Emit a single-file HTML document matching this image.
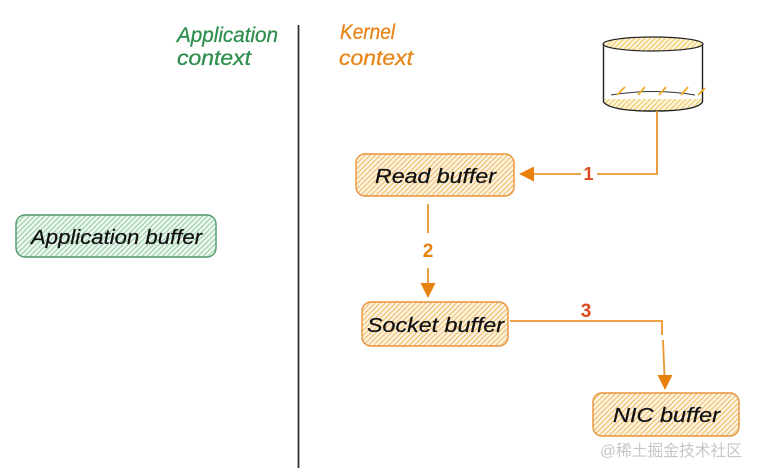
<!DOCTYPE html>
<html>
<head>
<meta charset="utf-8">
<style>
html,body{margin:0;padding:0;background:#fff;width:757px;height:475px;overflow:hidden}
svg{display:block}
text{font-family:"Liberation Sans","Noto Sans CJK SC",sans-serif}
</style>
</head>
<body>
<svg width="757" height="475" viewBox="0 0 757 475" xmlns="http://www.w3.org/2000/svg">
<defs>
<pattern id="ho" width="3.6" height="3.6" patternUnits="userSpaceOnUse" patternTransform="rotate(45)">
<rect width="3.6" height="3.6" fill="#fdf6e6"/>
<rect width="1.4" height="3.6" fill="#f3c57c"/>
</pattern>
<pattern id="hg" width="3.6" height="3.6" patternUnits="userSpaceOnUse" patternTransform="rotate(45)">
<rect width="3.6" height="3.6" fill="#f1f9f3"/>
<rect width="1.4" height="3.6" fill="#a5d5b2"/>
</pattern>
<pattern id="hy" width="3.6" height="3.6" patternUnits="userSpaceOnUse" patternTransform="rotate(45)">
<rect width="3.6" height="3.6" fill="#fdf6e0"/>
<rect width="1.4" height="3.6" fill="#f3cf72"/>
</pattern>
</defs>
<rect width="757" height="475" fill="#fff"/>

<line x1="298.5" y1="25" x2="298.5" y2="468" stroke="#333" stroke-width="1.8"/>

<g font-size="21" fill="#2f8f4e" font-style="italic" stroke="#2f8f4e" stroke-width="0.3">
<text x="177" y="42" textLength="101" lengthAdjust="spacingAndGlyphs">Application</text>
<text x="177" y="65" textLength="74" lengthAdjust="spacingAndGlyphs">context</text>
</g>
<g font-size="21" fill="#e8861a" font-style="italic" stroke="#e8861a" stroke-width="0.3">
<text x="340" y="39" textLength="55" lengthAdjust="spacingAndGlyphs">Kernel</text>
<text x="339" y="65" textLength="74" lengthAdjust="spacingAndGlyphs">context</text>
</g>

<!-- Application buffer -->
<rect x="16" y="215" width="200" height="42" rx="9" fill="url(#hg)" stroke="#4f9a66" stroke-width="1.4"/>
<text x="31" y="244" font-size="20" font-style="italic" fill="#111" stroke="#111" stroke-width="0.25" textLength="171" lengthAdjust="spacingAndGlyphs">Application buffer</text>

<!-- Read buffer -->
<rect x="356" y="154" width="158" height="42" rx="9" fill="url(#ho)" stroke="#e8933a" stroke-width="1.4"/>
<text x="375" y="183" font-size="20" font-style="italic" fill="#111" stroke="#111" stroke-width="0.25" textLength="121" lengthAdjust="spacingAndGlyphs">Read buffer</text>

<!-- Socket buffer -->
<rect x="362" y="302" width="146" height="44" rx="9" fill="url(#ho)" stroke="#e8933a" stroke-width="1.4"/>
<text x="367" y="332" font-size="20" font-style="italic" fill="#111" stroke="#111" stroke-width="0.25" textLength="137" lengthAdjust="spacingAndGlyphs">Socket buffer</text>

<!-- NIC buffer -->
<rect x="593" y="393" width="146" height="43" rx="9" fill="url(#ho)" stroke="#e8933a" stroke-width="1.4"/>
<text x="613" y="422" font-size="20" font-style="italic" fill="#111" stroke="#111" stroke-width="0.25" textLength="107" lengthAdjust="spacingAndGlyphs">NIC buffer</text>

<!-- Cylinder -->
<ellipse cx="653" cy="44" rx="50" ry="7" fill="url(#hy)" stroke="#222" stroke-width="1.2"/>
<path d="M604 99 H702 V103 Q690 110 653 111 Q616 110 604 103 Z" fill="url(#hy)"/>
<path d="M603.500 44 V102 Q610 111 653 111 Q697 111 702.500 102 V44" fill="none" stroke="#222" stroke-width="1.4"/>
<path d="M611 95 Q653 88 695 95" fill="none" stroke="#333" stroke-width="1"/>
<g stroke="#eeaa28" stroke-width="1.8">
<line x1="617" y1="95" x2="625" y2="87"/>
<line x1="638" y1="95" x2="645" y2="87"/>
<line x1="659" y1="95" x2="666" y2="87"/>
<line x1="681" y1="95" x2="688" y2="87"/>
<line x1="698" y1="95" x2="705" y2="88"/>
</g>

<!-- Connector 1 -->
<path d="M657 111 V174 H597 M581 174 H532" fill="none" stroke="#e8962e" stroke-width="1.8"/>
<polygon points="519,174 534,166.500 534,181.500" fill="#e8800c"/>
<text x="588.500" y="180" font-size="18" font-weight="bold" fill="#dc4a20" text-anchor="middle">1</text>

<!-- Connector 2 -->
<path d="M428 204 V233 M428 268 V284" fill="none" stroke="#e8962e" stroke-width="1.8"/>
<polygon points="428,298 420.500,283 435.500,283" fill="#e8800c"/>
<text x="428" y="257" font-size="19" font-weight="bold" fill="#e8800c" text-anchor="middle">2</text>

<!-- Connector 3 -->
<path d="M510 321 H662 V335 M663 340 L664.500 376" fill="none" stroke="#e8962e" stroke-width="1.8"/>
<polygon points="665,390 657.500,375 672.500,375" fill="#e8800c"/>
<text x="586" y="317" font-size="19" font-weight="bold" fill="#dc4a20" text-anchor="middle">3</text>

<!-- Watermark -->
<text x="600" y="456" font-size="16" fill="#c4c7cb" textLength="142" lengthAdjust="spacingAndGlyphs">@稀土掘金技术社区</text>
</svg>
</body>
</html>
